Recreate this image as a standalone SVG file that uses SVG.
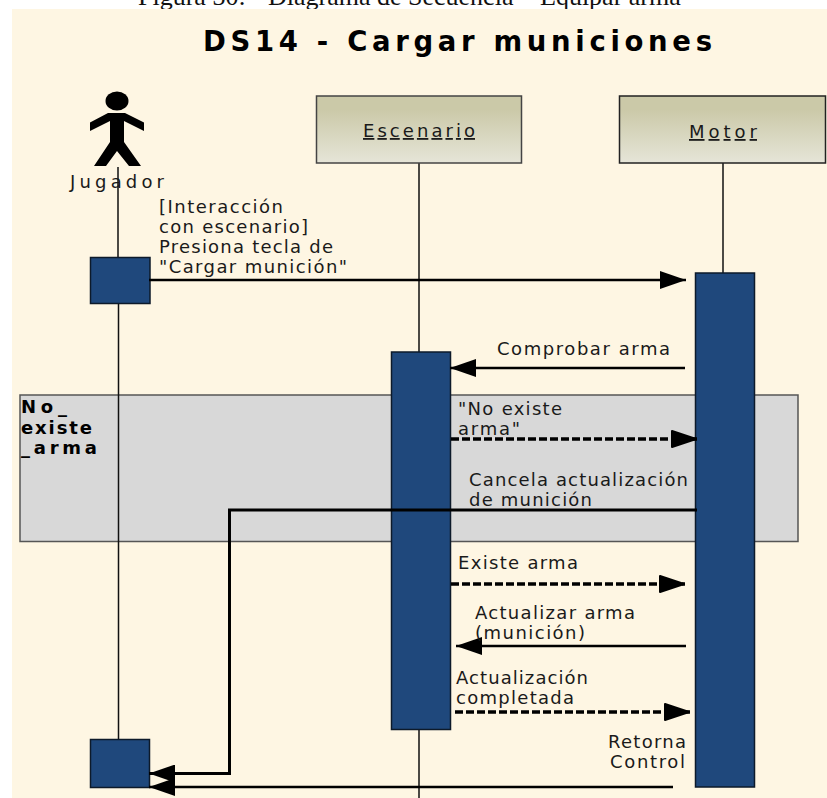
<svg xmlns="http://www.w3.org/2000/svg" width="827" height="798" viewBox="0 0 827 798">
<style>
text{font-family:"DejaVu Sans","Liberation Sans",sans-serif;font-size:18px;fill:#1a1a1a}
.cap{font-family:"Liberation Serif",serif;font-size:26px;fill:#111}
.title{font-size:27.500px;font-weight:bold;fill:#000}
.frag{font-weight:bold;fill:#000}
.obj{fill:url(#g);stroke:#444;stroke-width:1.500}
.bar{fill:#1f487c;stroke:#0d1a2a;stroke-width:1.500}
.life{stroke:#111;stroke-width:1.500;fill:none}
.msg{stroke:#000;stroke-width:2.500;fill:none}
.thick{stroke:#000;stroke-width:3;fill:none}
.dash{stroke:#000;stroke-width:3.500;fill:none;stroke-dasharray:8 3}
</style>
<defs>
<linearGradient id="g" x1="0" y1="0" x2="0" y2="1"><stop offset="0.2" stop-color="#cbc9a8"/><stop offset="1" stop-color="#e6e5d8"/></linearGradient>
<marker id="a" markerUnits="userSpaceOnUse" markerWidth="26" markerHeight="18" refX="26" refY="9" orient="auto"><path d="M0 0L26 9L0 18Z" fill="#000"/></marker>
<marker id="b" markerUnits="userSpaceOnUse" markerWidth="28" markerHeight="22" refX="27" refY="11" orient="auto"><path d="M2 3L26 11L2 19Z" fill="#000" stroke="#000" stroke-width="2" stroke-linejoin="round"/></marker>
</defs>
<rect width="827" height="798" fill="#fff"/>
<text class="cap" y="4.500"><tspan x="138">Figura 30:</tspan><tspan x="268">Diagrama de Secuencia</tspan><tspan x="540">Equipar arma</tspan></text>
<rect x="12" y="9" width="815" height="789" fill="#fef6e3"/>
<text class="title" x="203" y="51" textLength="509">DS14 - Cargar municiones</text>

<g id="frag-no-existe-arma">
<rect x="20" y="395" width="778" height="146.500" fill="#d8d8d8" stroke="#555" stroke-width="1.500"/>
<text class="frag" x="21" y="413" textLength="46">No_</text>
<text class="frag" x="21" y="433.500" textLength="71">existe</text>
<text class="frag" x="21" y="453.500" textLength="76">_arma</text>
</g>

<g id="lifelines">
<path class="life" d="M118 167V257M118.500 304V740"/>
<path class="life" d="M419 163V352M419 730V798"/>
<path class="life" d="M723 163V273"/>
</g>

<g id="actor-jugador">
<ellipse cx="117" cy="101" rx="11.500" ry="9.500" fill="#000"/>
<path d="M108 113H125L144 122.500V131L124 121V142L141 166H129L117 151L106 166H94L110 142V121L90 131V122.500Z" fill="#000"/>
<text x="70" y="188" textLength="94">Jugador</text>
</g>

<g id="obj-escenario">
<rect class="obj" x="316.500" y="96" width="205" height="67"/>
<text x="363" y="137" textLength="112" text-decoration="underline">Escenario</text>
</g>
<g id="obj-motor">
<rect class="obj" x="619.500" y="96" width="206" height="67" style="stroke:#222"/>
<text x="689" y="138" textLength="68" text-decoration="underline">Motor</text>
</g>

<g id="act-jugador-1"><rect class="bar" x="90.500" y="257.500" width="59.500" height="46"/></g>
<g id="act-jugador-2"><rect class="bar" x="90.500" y="739.500" width="59" height="48"/></g>
<g id="act-escenario"><rect class="bar" x="391.500" y="352" width="59" height="377.500"/></g>
<g id="act-motor"><rect class="bar" x="695.500" y="273" width="59" height="514"/></g>

<g id="connectors">
<path class="msg" d="M149 280H686" marker-end="url(#a)"/>
<path class="msg" d="M685 368H450" marker-end="url(#a)"/>
<path class="dash" d="M451 439H697" marker-end="url(#b)"/>
<path class="thick" d="M697 510H229.500V773.500H149" marker-end="url(#a)"/>
<path class="dash" d="M451 584H685" marker-end="url(#b)"/>
<path class="msg" d="M686 646H456" marker-end="url(#a)"/>
<path class="dash" d="M455 712H690" marker-end="url(#b)"/>
<path class="msg" d="M673 787H149" marker-end="url(#a)"/>
</g>

<g id="labels">
<text x="159" y="213" textLength="124">[Interacción</text>
<text x="159" y="233" textLength="149">con escenario]</text>
<text x="159" y="253" textLength="174">Presiona tecla de</text>
<text x="159" y="272.500" textLength="188">"Cargar munición"</text>
<text x="497" y="355" textLength="173">Comprobar arma</text>
<text x="458" y="415" textLength="104">"No existe</text>
<text x="458" y="435" textLength="62">arma"</text>
<text x="469" y="486" textLength="219">Cancela actualización</text>
<text x="469" y="506" textLength="123">de munición</text>
<text x="458" y="569" textLength="120">Existe arma</text>
<text x="475" y="619" textLength="160">Actualizar arma</text>
<text x="475" y="639" textLength="110">(munición)</text>
<text x="456" y="684" textLength="132">Actualización</text>
<text x="456" y="704" textLength="118">completada</text>
<text x="608" y="748" textLength="78">Retorna</text>
<text x="610" y="768" textLength="75">Control</text>
</g>
</svg>
